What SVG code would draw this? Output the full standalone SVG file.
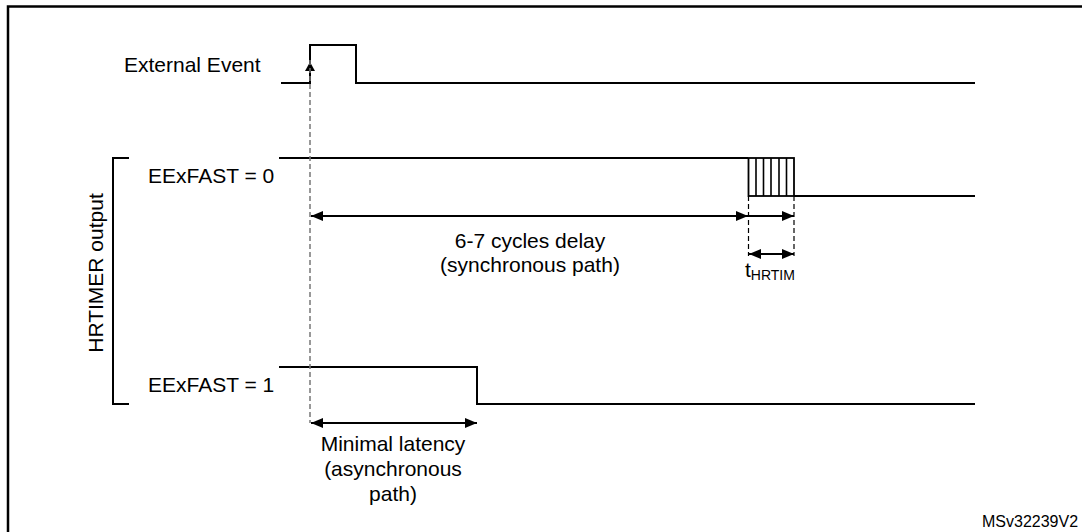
<svg xmlns="http://www.w3.org/2000/svg" width="1082" height="532" viewBox="0 0 1082 532">
<defs>
<style>
text{font-family:"Liberation Sans",Arial,sans-serif;fill:#000}
.lbl{font-size:21px}
.sig{fill:none;stroke:#000;stroke-width:2}
.dim{fill:none;stroke:#000;stroke-width:2}
.gdash{stroke:#777;stroke-width:1.5;stroke-dasharray:5,3}
.bdash{stroke:#000;stroke-width:1.2;stroke-dasharray:5,3}
</style>
<marker id="ah" viewBox="0 0 12 10" refX="12" refY="5" markerWidth="12" markerHeight="10" markerUnits="userSpaceOnUse" orient="auto-start-reverse">
<path d="M0,0 L12,5 L0,10 Z" fill="#000"/>
</marker>
</defs>
<rect x="0" y="0" width="1082" height="532" fill="#fff"/>
<path d="M8,540 V6.5 H1090" fill="none" stroke="#000" stroke-width="2.5"/>

<g id="external-event">
<text class="lbl" x="124" y="72">External Event</text>
<polyline class="sig" points="281,83 310,83 310,45 356,45 356,83 975,83"/>
<polygon points="310,62 305,71 315,71" fill="#000"/>
</g>

<g id="hrtimer-output">
<text class="lbl" transform="translate(103,273) rotate(-90)" text-anchor="middle">HRTIMER output</text>
<polyline fill="none" stroke="#000" stroke-width="2" points="129,158 113,158 113,404 129,404"/>
</g>

<g id="eexfast0">
<text class="lbl" x="148" y="183">EExFAST = 0</text>
<polyline class="sig" points="279,158 748,158"/>
<rect x="748.5" y="158" width="45.5" height="38" fill="none" stroke="#000" stroke-width="1.8"/>
<path d="M756,158V196M763.5,158V196M771,158V196M779,158V196M786.5,158V196" stroke="#000" stroke-width="1.6"/>
<polyline class="sig" points="794,196 975,196"/>
</g>

<g id="eexfast1">
<text class="lbl" x="148" y="392">EExFAST = 1</text>
<polyline class="sig" points="279,367 477,367 477,404 975,404"/>
</g>

<g id="connectors">
<line class="gdash" x1="310" y1="60" x2="310" y2="423"/>
<line class="bdash" x1="748.5" y1="196" x2="748.5" y2="256"/>
<line class="bdash" x1="794" y1="196" x2="794" y2="256"/>
<line class="dim" x1="311" y1="216" x2="748" y2="216" marker-start="url(#ah)" marker-end="url(#ah)"/>
<line class="dim" x1="749" y1="216" x2="794" y2="216" marker-end="url(#ah)"/>
<line class="dim" x1="749" y1="254" x2="794" y2="254" marker-start="url(#ah)" marker-end="url(#ah)"/>
<line class="dim" x1="311" y1="423" x2="477" y2="423" marker-start="url(#ah)" marker-end="url(#ah)"/>
</g>

<g id="labels">
<text class="lbl" x="530" y="248" text-anchor="middle">6-7 cycles delay</text>
<text class="lbl" x="530" y="272" text-anchor="middle">(synchronous path)</text>
<text class="lbl" x="745" y="277">t<tspan font-size="14" dy="3">HRTIM</tspan></text>
<text class="lbl" x="393" y="451" text-anchor="middle">Minimal latency</text>
<text class="lbl" x="393" y="476" text-anchor="middle">(asynchronous</text>
<text class="lbl" x="393" y="501" text-anchor="middle">path)</text>
<text x="982" y="526.5" font-size="16">MSv32239V2</text>
</g>
</svg>
